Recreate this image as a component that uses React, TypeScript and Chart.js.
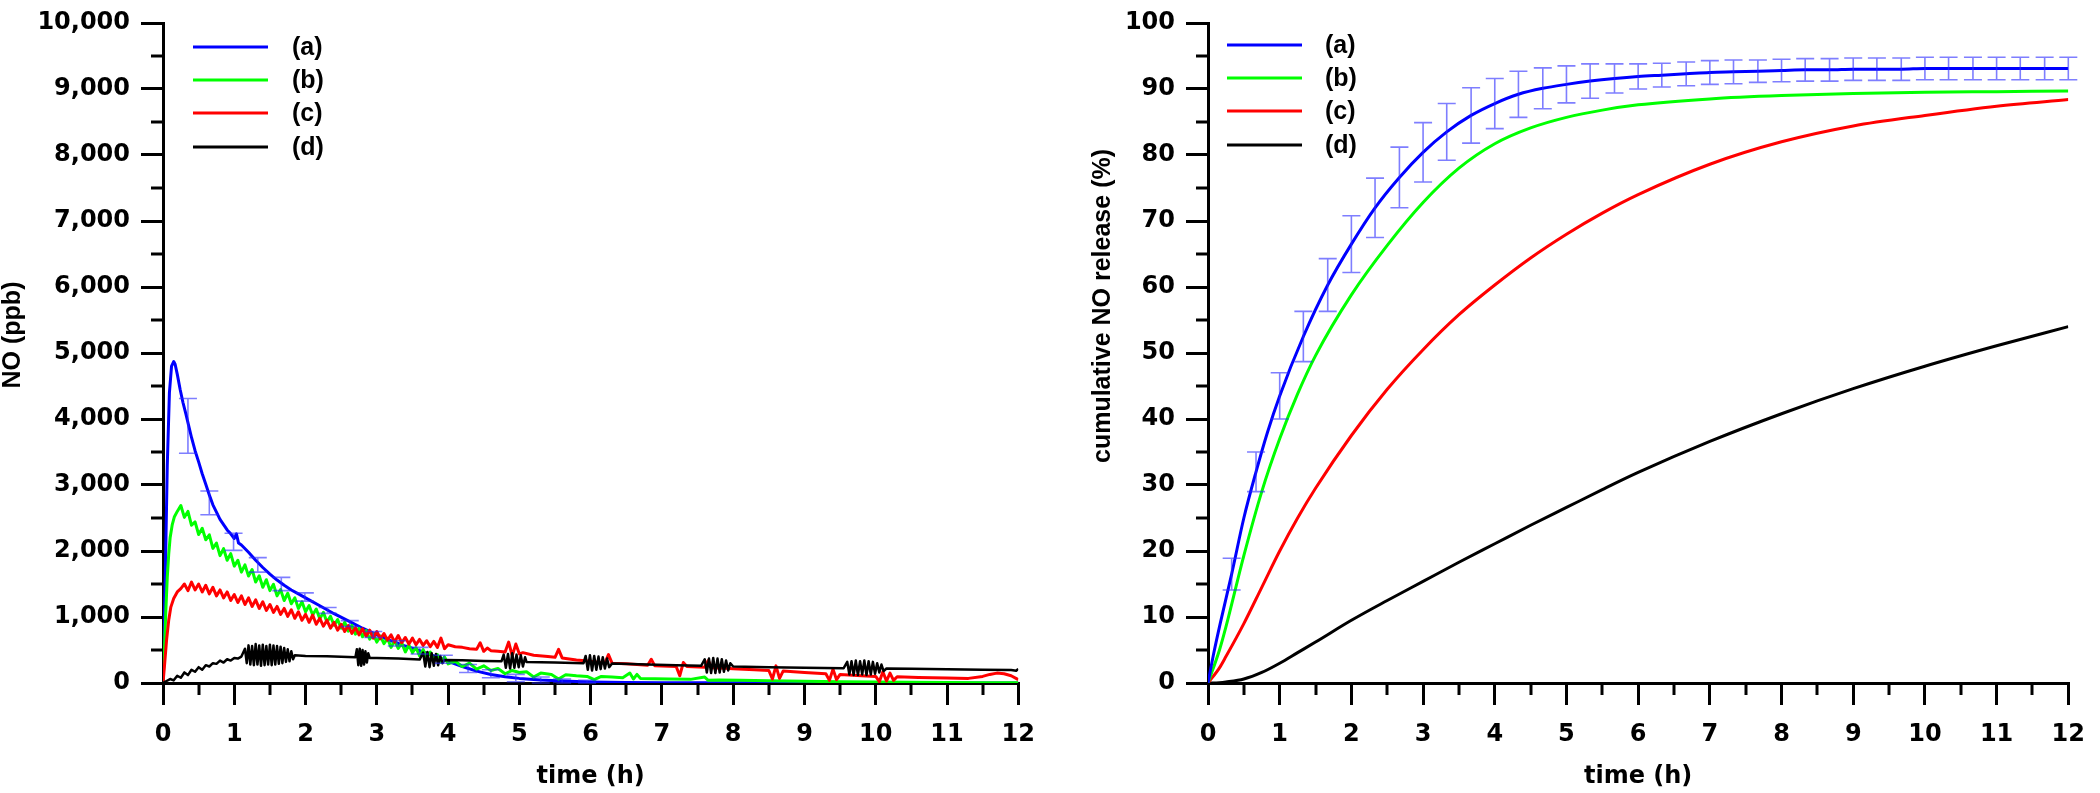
import React, { useEffect, useRef } from 'react';
import { Chart, registerables } from 'chart.js';

Chart.register(...registerables);

// ---------------- shared ----------------
const seriesLabels = ['(a)', '(b)', '(c)', '(d)'];
const seriesColors = ['#0000ff', '#00ff00', '#ff0000', '#000000'];
const timeTicks = [0, 1, 2, 3, 4, 5, 6, 7, 8, 9, 10, 11, 12];
const timeMinorTicks = [0.5, 1.5, 2.5, 3.5, 4.5, 5.5, 6.5, 7.5, 8.5, 9.5, 10.5, 11.5];
const xTitle = 'time (h)';

// ---------------- left panel: NO (ppb) vs time (h) ----------------
const noTicks = [0, 1000, 2000, 3000, 4000, 5000, 6000, 7000, 8000, 9000, 10000];
const noMinorTicks = [500, 1500, 2500, 3500, 4500, 5500, 6500, 7500, 8500, 9500];
const noTitle = 'NO (ppb)';

// [time h, NO ppb]
const noA: [number, number][] = [
  [0, 0], [0.03, 1500], [0.06, 3300], [0.09, 4400], [0.12, 4800], [0.15, 4870], [0.17, 4830], [0.2, 4680],
  [0.24, 4450], [0.28, 4250], [0.32, 4080], [0.36, 3900], [0.4, 3720], [0.45, 3520], [0.5, 3350], [0.55, 3170],
  [0.6, 3010], [0.65, 2850], [0.7, 2700], [0.8, 2480], [0.9, 2320], [0.95, 2260], [1.0, 2190], [1.03, 2260],
  [1.06, 2120], [1.1, 2090], [1.2, 1980], [1.3, 1860], [1.4, 1750], [1.5, 1650], [1.6, 1560], [1.7, 1480],
  [1.8, 1410], [1.9, 1350], [2.0, 1290], [2.2, 1170], [2.4, 1050], [2.6, 940], [2.8, 830], [3.0, 730],
  [3.2, 640], [3.4, 560], [3.6, 490], [3.8, 410], [4.0, 330], [4.2, 250], [4.4, 180], [4.6, 130],
  [4.8, 95], [5.0, 70], [5.3, 45], [5.6, 30], [6.0, 15], [6.5, 8], [7, 5], [8, 3], [9, 2], [10, 0], [11, 0], [12, 0],
];

const noB: [number, number][] = [
  [0, 0], [0.02, 500], [0.04, 1100], [0.06, 1600], [0.08, 1950], [0.1, 2200], [0.13, 2400], [0.16, 2520], [0.2, 2600],
  [0.25, 2690], [0.3, 2510], [0.35, 2600], [0.4, 2390], [0.45, 2440], [0.5, 2250], [0.55, 2345], [0.6, 2170],
  [0.65, 2245], [0.7, 2040], [0.75, 2120], [0.8, 1930], [0.85, 2035], [0.9, 1860], [0.95, 1960], [1.0, 1770],
  [1.05, 1860], [1.1, 1680], [1.15, 1790], [1.2, 1620], [1.25, 1720], [1.3, 1530], [1.35, 1625], [1.4, 1450],
  [1.45, 1565], [1.5, 1400], [1.55, 1495], [1.6, 1320], [1.65, 1415], [1.7, 1250], [1.75, 1360], [1.8, 1200],
  [1.85, 1290], [1.9, 1130], [1.95, 1230], [2.0, 1080], [2.05, 1175], [2.1, 1030], [2.15, 1120], [2.2, 975],
  [2.25, 1070], [2.3, 925], [2.35, 1010], [2.4, 875], [2.45, 960], [2.5, 830], [2.55, 920], [2.6, 785],
  [2.65, 875], [2.7, 740], [2.75, 830], [2.8, 700], [2.85, 795], [2.9, 665], [2.95, 745], [3.0, 620],
  [3.05, 710], [3.1, 595], [3.15, 675], [3.2, 540], [3.25, 640], [3.3, 525], [3.35, 605], [3.4, 470],
  [3.45, 575], [3.5, 460], [3.55, 535], [3.6, 410], [3.65, 505], [3.7, 385], [3.75, 470], [3.8, 340],
  [3.85, 430], [3.9, 315], [3.95, 395], [4.0, 290], [4.1, 330], [4.2, 250], [4.3, 300], [4.4, 210],
  [4.5, 260], [4.6, 190], [4.7, 220], [4.8, 140], [4.9, 190], [5.0, 160], [5.1, 170], [5.2, 90], [5.3, 150],
  [5.45, 130], [5.55, 60], [5.65, 125], [5.8, 110], [5.95, 100], [6.05, 50], [6.15, 100], [6.3, 90],
  [6.45, 80], [6.55, 150], [6.6, 60], [6.65, 130], [6.7, 70], [6.9, 65], [7.1, 60], [7.4, 55], [7.6, 90],
  [7.65, 40], [7.8, 45], [8.1, 40], [8.5, 35], [9.0, 25], [9.5, 20], [10, 15], [10.5, 10], [11, 8], [11.5, 5], [12, 5],
];

const noC: [number, number][] = [
  [0, 0], [0.02, 250], [0.05, 650], [0.08, 950], [0.11, 1150], [0.15, 1280], [0.2, 1380], [0.25, 1430],
  [0.3, 1500], [0.35, 1400], [0.4, 1530], [0.45, 1410], [0.5, 1500], [0.55, 1380], [0.6, 1480], [0.65, 1350],
  [0.7, 1450], [0.75, 1320], [0.8, 1410], [0.85, 1290], [0.9, 1380], [0.95, 1250], [1.0, 1340], [1.05, 1220],
  [1.1, 1320], [1.15, 1190], [1.2, 1290], [1.25, 1160], [1.3, 1260], [1.35, 1130], [1.4, 1230], [1.45, 1100],
  [1.5, 1190], [1.55, 1070], [1.6, 1160], [1.65, 1040], [1.7, 1130], [1.75, 1010], [1.8, 1110], [1.85, 980],
  [1.9, 1080], [1.95, 950], [2.0, 1040], [2.05, 920], [2.1, 1030], [2.15, 890], [2.2, 980], [2.25, 860],
  [2.3, 950], [2.35, 830], [2.4, 920], [2.45, 800], [2.5, 890], [2.55, 780], [2.6, 870], [2.65, 750],
  [2.7, 840], [2.75, 730], [2.8, 820], [2.85, 710], [2.9, 800], [2.95, 680], [3.0, 780], [3.05, 670],
  [3.1, 750], [3.15, 650], [3.2, 730], [3.25, 620], [3.3, 720], [3.35, 610], [3.4, 690], [3.45, 590],
  [3.5, 680], [3.55, 580], [3.6, 660], [3.65, 570], [3.7, 640], [3.75, 550], [3.8, 630], [3.85, 540],
  [3.9, 680], [3.95, 520], [4.0, 580], [4.1, 550], [4.2, 540], [4.3, 520], [4.4, 510], [4.45, 610],
  [4.5, 480], [4.55, 530], [4.6, 490], [4.7, 480], [4.8, 470], [4.85, 620], [4.9, 410], [4.95, 590],
  [5.0, 440], [5.05, 460], [5.2, 420], [5.4, 400], [5.5, 390], [5.55, 510], [5.6, 380], [5.8, 350],
  [6.0, 330], [6.2, 300], [6.25, 430], [6.3, 300], [6.5, 290], [6.8, 270], [6.85, 360], [6.9, 260],
  [7.2, 250], [7.25, 110], [7.3, 310], [7.35, 250], [7.6, 240], [7.65, 340], [7.7, 230], [7.9, 225],
  [8.0, 215], [8.3, 200], [8.5, 190], [8.55, 60], [8.6, 260], [8.65, 70], [8.7, 180], [9.0, 160],
  [9.3, 140], [9.35, 40], [9.4, 210], [9.45, 50], [9.5, 130], [9.8, 110], [10.0, 100], [10.05, 20],
  [10.1, 170], [10.15, 30], [10.2, 150], [10.25, 40], [10.3, 95], [10.6, 85], [11.0, 75], [11.3, 70],
  [11.5, 100], [11.6, 130], [11.7, 150], [11.8, 140], [11.9, 110], [12.0, 50],
];

const noD: [number, number][] = [
  [0, 0], [0.05, 30], [0.1, 60], [0.15, 40], [0.2, 110], [0.25, 80], [0.3, 160], [0.35, 120], [0.4, 200],
  [0.45, 170], [0.5, 240], [0.55, 200], [0.6, 270], [0.65, 250], [0.7, 300], [0.75, 290], [0.8, 340],
  [0.85, 310], [0.9, 360], [0.95, 340], [1.0, 380], [1.05, 370], [1.1, 400],
  [1.15, 520], [1.175, 300], [1.2, 570], [1.225, 280], [1.25, 560], [1.275, 270], [1.3, 590], [1.325, 280],
  [1.35, 570], [1.375, 260], [1.4, 580], [1.425, 270], [1.45, 560], [1.475, 280], [1.5, 580], [1.525, 270],
  [1.55, 570], [1.575, 280], [1.6, 560], [1.625, 290], [1.65, 550], [1.675, 300], [1.7, 530], [1.725, 320],
  [1.75, 510], [1.775, 330], [1.8, 480], [1.825, 360], [1.85, 420],
  [2.0, 410], [2.3, 405], [2.6, 395], [2.7, 390],
  [2.72, 510], [2.74, 270], [2.76, 520], [2.78, 260], [2.8, 500], [2.82, 280], [2.84, 480], [2.86, 310],
  [2.88, 450], [2.9, 380], [3.0, 380], [3.3, 370], [3.6, 355],
  [3.65, 460], [3.68, 250], [3.71, 470], [3.74, 240], [3.77, 450], [3.8, 260], [3.83, 440], [3.86, 270],
  [3.89, 410], [3.92, 300], [3.95, 350], [4.2, 345], [4.5, 335], [4.75, 330],
  [4.78, 430], [4.81, 230], [4.84, 440], [4.87, 220], [4.9, 450], [4.93, 230], [4.96, 430], [4.99, 240],
  [5.02, 420], [5.05, 250], [5.08, 390], [5.1, 320], [5.5, 310], [5.9, 300],
  [5.93, 410], [5.96, 200], [5.99, 420], [6.02, 190], [6.05, 410], [6.08, 200], [6.11, 400], [6.14, 210],
  [6.17, 390], [6.2, 220], [6.23, 370], [6.26, 240], [6.3, 295], [6.8, 280], [7.2, 270], [7.55, 260],
  [7.6, 360], [7.63, 160], [7.66, 370], [7.69, 150], [7.72, 380], [7.75, 150], [7.78, 370], [7.81, 160],
  [7.84, 360], [7.87, 170], [7.9, 340], [7.93, 190], [7.96, 300], [8.0, 250], [8.5, 240], [9.0, 232], [9.55, 225],
  [9.6, 320], [9.63, 130], [9.66, 330], [9.69, 120], [9.72, 340], [9.75, 120], [9.78, 330], [9.81, 130],
  [9.84, 340], [9.87, 120], [9.9, 330], [9.93, 130], [9.96, 320], [9.99, 140], [10.02, 300], [10.05, 160],
  [10.08, 280], [10.11, 180], [10.15, 220], [10.5, 215], [11.0, 208], [11.5, 202], [11.9, 198], [11.97, 185], [12.0, 215],
];

// error bars on (a): [time h, low ppb, high ppb]
const noAErr: [number, number, number][] = [
  [0.35, 3480, 4310], [0.65, 2550, 2910], [0.99, 2010, 2270], [1.33, 1680, 1900], [1.66, 1400, 1600],
  [1.99, 1240, 1365], [2.31, 1055, 1145], [2.62, 855, 945], [2.95, 690, 780], [3.28, 560, 640],
  [3.6, 440, 540], [3.94, 300, 420], [4.28, 160, 280], [4.6, 80, 200], [4.95, 20, 130], [5.3, 0, 90],
  [5.6, 0, 60], [5.95, 0, 40],
];

// ---------------- right panel: cumulative NO release (%) ----------------
const pctTicks = [0, 10, 20, 30, 40, 50, 60, 70, 80, 90, 100];
const pctMinorTicks = [5, 15, 25, 35, 45, 55, 65, 75, 85, 95];
const pctTitle = 'cumulative NO release (%)';

// [time h, %, ± error]
const cumA: [number, number, number][] = [
  [0, 0, 0], [0.08, 4.5, 0], [0.17, 9, 0], [0.33, 16.5, 2.4], [0.5, 25, 0], [0.67, 32, 3.0], [0.83, 38, 0],
  [1, 43.5, 3.5], [1.33, 52.5, 3.8], [1.67, 60.3, 4.0], [2, 66.5, 4.3], [2.33, 72, 4.5], [2.67, 76.6, 4.6],
  [3, 80.4, 4.5], [3.33, 83.5, 4.3], [3.67, 86, 4.2], [4, 87.8, 3.8], [4.33, 89.2, 3.5], [4.67, 90.1, 3.1],
  [5, 90.7, 2.8], [5.33, 91.2, 2.6], [5.67, 91.6, 2.2], [6, 91.9, 1.9], [6.33, 92.1, 1.8], [6.67, 92.3, 1.8],
  [7, 92.5, 1.8], [7.33, 92.6, 1.8], [7.67, 92.7, 1.7], [8, 92.8, 1.7], [8.33, 92.9, 1.7], [8.67, 92.9, 1.7],
  [9, 93.0, 1.7], [9.33, 93.0, 1.7], [9.67, 93.0, 1.7], [10, 93.1, 1.7], [10.33, 93.1, 1.7], [10.67, 93.1, 1.7],
  [11, 93.1, 1.7], [11.33, 93.1, 1.7], [11.67, 93.1, 1.7], [12, 93.1, 1.7],
];
const cumTime = [0, 0.16, 0.25, 0.5, 0.75, 1, 1.25, 1.5, 2, 2.5, 3, 3.5, 4, 4.5, 5, 5.5, 6, 7, 8, 9, 10, 11, 12];
const cumB = [0, 5, 8.5, 19.3, 29, 37, 43.8, 49.6, 58.8, 66.3, 72.8, 78.0, 81.7, 84.1, 85.7, 86.8, 87.6, 88.5, 89.0, 89.3, 89.5, 89.6, 89.7];
const cumC = [0, 2.3, 4, 9, 14.5, 20, 25, 29.5, 37.5, 44.5, 50.5, 55.8, 60.3, 64.4, 68, 71.2, 74, 78.6, 82, 84.4, 86, 87.4, 88.4];
const cumD = [0, 0.05, 0.15, 0.6, 1.6, 3.0, 4.6, 6.2, 9.5, 12.5, 15.4, 18.3, 21.1, 23.9, 26.6, 29.3, 31.9, 36.6, 40.8, 44.6, 48.0, 51.1, 54.0];

// ---------------- helpers ----------------
const TICK_FONT = { family: '"DejaVu Sans", sans-serif', weight: 'bold' as const, size: 24, lineHeight: 1.0 };

type Panel = {
  yMin: number; yMax: number; yTicks: number[]; yMinor: number[];
  yFmt: (v: number) => string; yTitle: string; yTitlePos: [number, number];
  legendLine: [number, number]; legendText: number; legendRows: number[];
  padRight: number; yWidth: number;
  errBars: { x: number; lo: number; hi: number }[];
  datasets: any[];
};

function makePlugin(p: Panel) {
  return {
    id: 'decor',
    afterDatasetsDraw(chart: any) {
      const { ctx, scales } = chart;
      const xs = scales.x, ys = scales.y;
      ctx.save();
      ctx.strokeStyle = 'rgba(40,40,255,0.6)';
      ctx.lineWidth = 1.6;
      const cap = 9;
      p.errBars.forEach((b) => {
        const px = xs.getPixelForValue(b.x);
        const pl = ys.getPixelForValue(b.lo);
        const ph = ys.getPixelForValue(b.hi);
        ctx.beginPath();
        ctx.moveTo(px, pl); ctx.lineTo(px, ph);
        ctx.moveTo(px - cap, pl); ctx.lineTo(px + cap, pl);
        ctx.moveTo(px - cap, ph); ctx.lineTo(px + cap, ph);
        ctx.stroke();
      });
      ctx.restore();
    },
    afterDraw(chart: any) {
      const { ctx, scales, chartArea } = chart;
      const xs = scales.x, ys = scales.y;
      ctx.save();
      // minor ticks
      ctx.strokeStyle = '#000';
      ctx.lineWidth = 3;
      ctx.lineCap = 'butt';
      timeMinorTicks.forEach((v) => {
        const px = Math.round(xs.getPixelForValue(v));
        ctx.beginPath(); ctx.moveTo(px, chartArea.bottom); ctx.lineTo(px, chartArea.bottom + 12); ctx.stroke();
      });
      p.yMinor.forEach((v) => {
        const py = Math.round(ys.getPixelForValue(v));
        ctx.beginPath(); ctx.moveTo(chartArea.left, py); ctx.lineTo(chartArea.left - 12, py); ctx.stroke();
      });
      // legend
      ctx.font = 'bold 25px "Liberation Sans", Arial, sans-serif';
      ctx.textBaseline = 'middle';
      ctx.textAlign = 'left';
      seriesLabels.forEach((lab, i) => {
        const y = p.legendRows[i];
        ctx.strokeStyle = seriesColors[i];
        ctx.lineWidth = 3;
        ctx.beginPath(); ctx.moveTo(p.legendLine[0], y); ctx.lineTo(p.legendLine[1], y); ctx.stroke();
        ctx.fillStyle = '#000';
        ctx.fillText(lab, p.legendText, y + 1);
      });
      // axis titles
      ctx.fillStyle = '#000';
      ctx.textAlign = 'center';
      ctx.textBaseline = 'middle';
      ctx.font = 'bold 24px "DejaVu Sans", sans-serif';
      ctx.fillText(xTitle, (chartArea.left + chartArea.right) / 2, 777);
      ctx.translate(p.yTitlePos[0], p.yTitlePos[1]);
      ctx.rotate(-Math.PI / 2);
      ctx.font = 'bold 25px "Liberation Sans", Arial, sans-serif';
      ctx.fillText(p.yTitle, 0, 0);
      ctx.restore();
    },
  };
}

function makeConfig(p: Panel): any {
  return {
    type: 'line',
    data: { datasets: p.datasets },
    options: {
      responsive: false,
      animation: false,
      devicePixelRatio: 1,
      events: [],
      layout: { padding: { top: 13, right: p.padRight, left: 0, bottom: 0 } },
      plugins: { legend: { display: false }, tooltip: { enabled: false }, title: { display: false } },
      scales: {
        x: {
          type: 'linear', min: 0, max: 12,
          afterBuildTicks: (s: any) => { s.ticks = timeTicks.map((v) => ({ value: v })); },
          afterFit: (s: any) => { s.height = 110; },
          grid: { drawOnChartArea: false, tickLength: 22, tickWidth: 3, tickColor: '#000', color: '#000', lineWidth: 3 },
          border: { display: true, width: 3, color: '#000' },
          ticks: { font: { ...TICK_FONT, lineHeight: 1.2 }, color: '#000', padding: 15, maxRotation: 0, autoSkip: false, callback: (v: any) => String(v) },
        },
        y: {
          type: 'linear', min: p.yMin, max: p.yMax,
          afterBuildTicks: (s: any) => { s.ticks = p.yTicks.map((v) => ({ value: v })); },
          afterFit: (s: any) => { s.width = p.yWidth; },
          grid: { drawOnChartArea: false, tickLength: 22, tickWidth: 3, tickColor: '#000', color: '#000', lineWidth: 3 },
          border: { display: true, width: 3, color: '#000' },
          ticks: { font: TICK_FONT, color: '#000', padding: 11, autoSkip: false, callback: (v: any) => p.yFmt(Number(v)) },
        },
      },
    },
    plugins: [makePlugin(p)],
  };
}

const pts = (arr: [number, number][] | [number, number, number][]) => arr.map((r) => ({ x: r[0], y: r[1] }));
const ptsXY = (xs: number[], ys: number[]) => xs.map((x, i) => ({ x, y: ys[i] }));

function leftPanel(): Panel {
  const mk = (data: any, i: number, order: number, w: number) => ({
    label: seriesLabels[i], data, borderColor: seriesColors[i], backgroundColor: seriesColors[i],
    borderWidth: w, pointRadius: 0, tension: 0, fill: false, order, borderJoinStyle: 'round',
  });
  return {
    yMin: 0, yMax: 10000, yTicks: noTicks, yMinor: noMinorTicks,
    yFmt: (v) => v.toLocaleString('en-US'), yTitle: noTitle, yTitlePos: [13, 335],
    legendLine: [193, 268], legendText: 292, legendRows: [47, 80, 113, 147],
    padRight: 17, yWidth: 163,
    errBars: noAErr.map((r) => ({ x: r[0], lo: r[1], hi: r[2] })),
    datasets: [mk(pts(noA), 0, 4, 3), mk(pts(noB), 1, 3, 3), mk(pts(noC), 2, 2, 3), mk(pts(noD), 3, 1, 2.5)],
  };
}

function rightPanel(): Panel {
  const mk = (data: any, i: number, order: number) => ({
    label: seriesLabels[i], data, borderColor: seriesColors[i], backgroundColor: seriesColors[i],
    borderWidth: 3, pointRadius: 0, cubicInterpolationMode: 'monotone', fill: false, order,
  });
  return {
    yMin: 0, yMax: 100, yTicks: pctTicks, yMinor: pctMinorTicks,
    yFmt: (v) => String(v), yTitle: pctTitle, yTitlePos: [53, 306],
    legendLine: [177, 252], legendText: 275, legendRows: [45, 78, 111, 145],
    padRight: 16, yWidth: 158,
    errBars: cumA.filter((r) => r[2] > 0).map((r) => ({ x: r[0], lo: r[1] - r[2], hi: r[1] + r[2] })),
    datasets: [mk(pts(cumA), 0, 1), mk(ptsXY(cumTime, cumB), 1, 2), mk(ptsXY(cumTime, cumC), 2, 3), mk(ptsXY(cumTime, cumD), 3, 4)],
  };
}

export default function App() {
  const leftRef = useRef<HTMLCanvasElement>(null);
  const rightRef = useRef<HTMLCanvasElement>(null);
  useEffect(() => {
    const c1 = new Chart(leftRef.current as HTMLCanvasElement, makeConfig(leftPanel()));
    const c2 = new Chart(rightRef.current as HTMLCanvasElement, makeConfig(rightPanel()));
    return () => { c1.destroy(); c2.destroy(); };
  }, []);
  return (
    <div style={{ position: 'fixed', left: 0, top: 0, width: 2100, height: 793, background: '#fff', overflow: 'hidden' }}>
      <canvas ref={leftRef} width={1050} height={793} style={{ position: 'absolute', left: 0, top: 0, width: 1050, height: 793 }} />
      <canvas ref={rightRef} width={1050} height={793} style={{ position: 'absolute', left: 1050, top: 0, width: 1050, height: 793 }} />
    </div>
  );
}
